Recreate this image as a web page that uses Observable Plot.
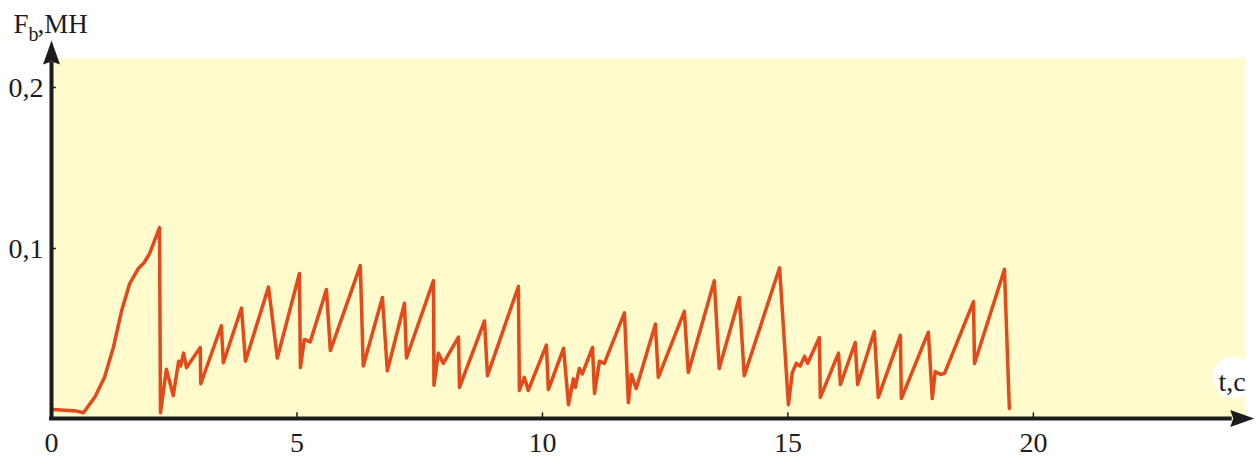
<!DOCTYPE html>
<html>
<head>
<meta charset="utf-8">
<script src="https://cdn.jsdelivr.net/npm/d3@7"></script>
<script src="https://cdn.jsdelivr.net/npm/@observablehq/plot@0.6"></script>
<style>
  html, body { margin: 0; padding: 0; background: #ffffff; }
  svg { display: block; }
</style>
</head>
<body>
<div id="chart"></div>
<script>
// Time, s
const tValues = [0.04,0.51,0.65,0.88,1.08,1.26,1.43,1.59,1.77,1.89,2.00,2.20,2.22,2.34,2.48,2.59,2.63,2.69,2.75,3.03,3.04,3.46,3.50,3.87,3.95,4.42,4.60,5.05,5.07,5.15,5.27,5.60,5.68,6.29,6.35,6.74,6.84,7.19,7.23,7.78,7.79,7.88,7.98,8.29,8.31,8.82,8.88,9.51,9.53,9.63,9.71,10.08,10.12,10.43,10.53,10.63,10.67,10.75,10.81,11.02,11.06,11.16,11.26,11.67,11.75,11.81,11.91,12.30,12.36,12.89,12.97,13.50,13.60,14.01,14.11,14.83,15.01,15.09,15.17,15.25,15.34,15.40,15.64,15.66,16.03,16.07,16.37,16.42,16.76,16.84,17.29,17.31,17.86,17.94,18.00,18.11,18.19,18.78,18.80,19.41,19.51];
// Force Fb, MN
const fValues = [0.000,-0.001,-0.002,0.0075,0.020,0.0385,0.0615,0.078,0.0876,0.0913,0.097,0.113,-0.002,0.025,0.0087,0.030,0.027,0.035,0.026,0.0385,0.016,0.052,0.029,0.063,0.030,0.076,0.032,0.0845,0.026,0.0435,0.042,0.0745,0.0366,0.0894,0.027,0.0696,0.024,0.066,0.032,0.080,0.015,0.035,0.0286,0.045,0.0137,0.055,0.021,0.0764,0.0118,0.020,0.0118,0.040,0.0124,0.038,0.003,0.019,0.0137,0.0255,0.022,0.0385,0.010,0.030,0.0286,0.060,0.0043,0.0217,0.013,0.053,0.020,0.061,0.023,0.080,0.0255,0.0696,0.021,0.088,0.003,0.023,0.0286,0.027,0.033,0.0286,0.0447,0.0075,0.035,0.0155,0.0416,0.0155,0.0484,0.0075,0.046,0.0068,0.048,0.0068,0.0236,0.0217,0.0224,0.067,0.0286,0.087,0.0006];

const xTicks = [0, 5, 10, 15, 20];
const xTickLabels = ["0", "5", "10", "15", "20"];
const yTicks = [0.1, 0.2];
const yTickLabels = ["0,1", "0,2"];

const yMin = -0.0056, yMax = 0.218;
const xMax = 24.32;

const points = tValues.map((t, i) => ({t, F: fValues[i]}));

const serif = "'Liberation Serif', 'DejaVu Serif', serif";
const axisColor = "#1c1c1c";
const arrowSym = {
  draw(ctx) {
    ctx.moveTo(0, -22);
    ctx.lineTo(8.5, 2);
    ctx.lineTo(0, -1);
    ctx.lineTo(-8.5, 2);
    ctx.closePath();
  }
};

const chart = Plot.plot({
  width: 1258,
  height: 457,
  marginLeft: 51,
  marginRight: 13,
  marginTop: 58,
  marginBottom: 39,
  x: {domain: [0, xMax], axis: null},
  y: {domain: [yMin, yMax], axis: null},
  style: {background: "#ffffff", color: "#1c1c1c"},
  marks: [
    Plot.frame({fill: "#fffbcc", stroke: null}),
    Plot.line(points, {x: "t", y: "F", stroke: "#e2491b", strokeWidth: 3.5, strokeLinejoin: "round", strokeLinecap: "round"}),
    // axes
    Plot.ruleY([yMin], {x1: -0.04, x2: 24.05, stroke: axisColor, strokeWidth: 4}),
    Plot.ruleX([0], {y1: yMin - 0.0008, y2: 0.2155, stroke: axisColor, strokeWidth: 4}),
    Plot.dot([{t: 24.05, F: yMin}], {x: "t", y: "F", symbol: arrowSym, rotate: 90, fill: axisColor}),
    Plot.dot([{t: 0, F: 0.2155}], {x: "t", y: "F", symbol: arrowSym, fill: axisColor}),
    // tick stubs
    Plot.ruleX(xTicks.slice(1), {y1: yMin, y2: yMin + 0.0035, stroke: axisColor, strokeWidth: 1.5}),
    Plot.ruleY(yTicks, {x1: 0, x2: 0.1, stroke: axisColor, strokeWidth: 1.5}),
    // tick labels
    Plot.text(xTicks, {x: d => d, text: (d, i) => xTickLabels[i], frameAnchor: "bottom", dy: 33, lineAnchor: "bottom", fontSize: 28, fontFamily: serif, fill: axisColor}),
    Plot.text(yTicks, {y: d => d, text: (d, i) => yTickLabels[i], frameAnchor: "left", dx: -8, dy: 10, textAnchor: "end", lineAnchor: "bottom", fontSize: 28, fontFamily: serif, fill: axisColor}),
    // axis titles
    Plot.text(["F"], {frameAnchor: "top-left", dx: -38, dy: -26, textAnchor: "start", lineAnchor: "bottom", fontSize: 27, fontFamily: serif, fill: axisColor}),
    Plot.text(["b"], {frameAnchor: "top-left", dx: -23, dy: -18, textAnchor: "start", lineAnchor: "bottom", fontSize: 20, fontFamily: serif, fill: axisColor}),
    Plot.text([",МН"], {frameAnchor: "top-left", dx: -14, dy: -26, textAnchor: "start", lineAnchor: "bottom", fontSize: 27, fontFamily: serif, fill: axisColor}),
    Plot.dot([0], {frameAnchor: "bottom-right", dx: -12, dy: -41, r: 21, fill: "#ffffff"}),
    Plot.text(["t,c"], {frameAnchor: "bottom-right", dx: -27, dy: -28, textAnchor: "start", lineAnchor: "bottom", fontSize: 28, fontFamily: serif, fill: axisColor})
  ]
});
document.getElementById("chart").append(chart);
</script>
</body>
</html>
